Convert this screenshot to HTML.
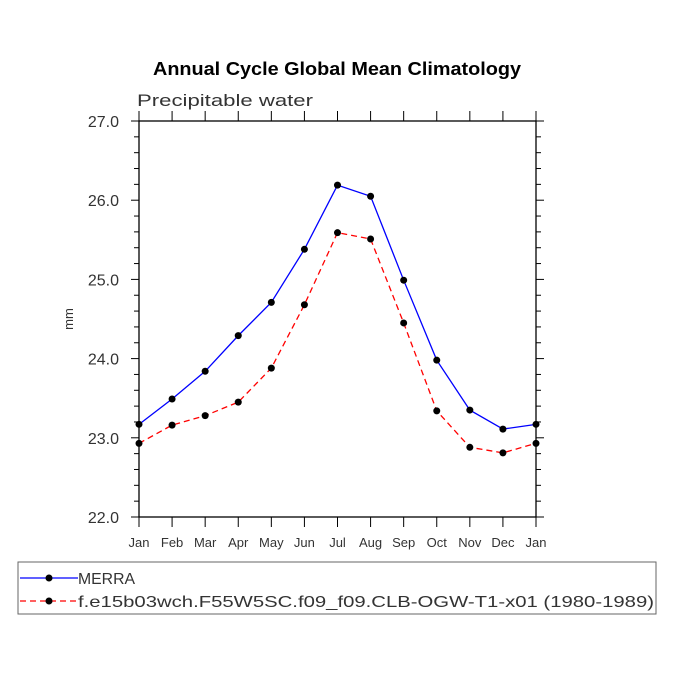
<!DOCTYPE html>
<html><head><meta charset="utf-8"><style>body{margin:0;background:#fff}svg{display:block}</style></head>
<body>
<svg id="c" width="675" height="675" xmlns="http://www.w3.org/2000/svg" font-family="Liberation Sans, DejaVu Sans, sans-serif">
<text x="153" y="75" textLength="368" lengthAdjust="spacingAndGlyphs" font-weight="bold" font-size="18">Annual Cycle Global Mean Climatology</text>
<text x="137" y="106" textLength="176" lengthAdjust="spacingAndGlyphs" font-size="17" fill="#333">Precipitable water</text>
<text x="73" y="319" font-size="13" fill="#333" text-anchor="middle" transform="rotate(-90 73 319)">mm</text>
<g id="axes"></g>
<g id="series"></g>
<rect x="18" y="562" width="638" height="52" fill="none" stroke="#666" stroke-width="1"/>
<g>
<line x1="20" y1="578" x2="78" y2="578" stroke="#00f" stroke-width="1.3"/>
<circle cx="49" cy="578" r="3.5"/>
<text x="78" y="584" textLength="57" lengthAdjust="spacingAndGlyphs" font-size="16" fill="#333">MERRA</text></g>
<g>
<line x1="20" y1="601" x2="78" y2="601" stroke="#f00" stroke-width="1.3" stroke-dasharray="6,4"/>
<circle cx="49" cy="601" r="3.5"/>
<text x="78" y="607" textLength="576" lengthAdjust="spacingAndGlyphs" font-size="16" fill="#333">f.e15b03wch.F55W5SC.f09_f09.CLB-OGW-T1-x01 (1980-1989)</text></g>
</svg>
<script>
const months=["Jan","Feb","Mar","Apr","May","Jun","Jul","Aug","Sep","Oct","Nov","Dec","Jan"];
const merra=[23.17,23.49,23.84,24.29,24.71,25.38,26.19,26.05,24.99,23.98,23.35,23.11,23.17];
const model=[22.93,23.16,23.28,23.45,23.88,24.68,25.59,25.51,24.45,23.34,22.88,22.81,22.93];
const yTicks=["22.0","23.0","24.0","25.0","26.0","27.0"];
const NS="http://www.w3.org/2000/svg";
const X0=139,X1=536,Y0=517,Y1=121,YMIN=22,YMAX=27;
const xs=i=>X0+(X1-X0)*i/(months.length-1);
const ys=v=>Y0-(v-YMIN)/(YMAX-YMIN)*(Y0-Y1);
const ax=document.getElementById('axes'),sr=document.getElementById('series');
function mk(t,a,p){const e=document.createElementNS(NS,t);for(const k in a)e.setAttribute(k,a[k]);p.appendChild(e);return e;}
const fr=mk('rect',{x:X0,y:Y1,width:X1-X0,height:Y0-Y1,fill:'none',stroke:'#000','stroke-width':1.3},ax);


months.forEach((m,i)=>{const x=xs(i);
mk('line',{x1:x,y1:Y0,x2:x,y2:Y0+10,stroke:'#000'},ax);
mk('line',{x1:x,y1:Y1,x2:x,y2:Y1-10,stroke:'#000'},ax);
const t=mk('text',{x:x,y:Y0+30,'text-anchor':'middle','font-size':13,fill:'#333'},ax);t.textContent=m;

});
for(let v=YMIN;v<=YMAX+1e-9;v+=0.2){const y=ys(v);const maj=Math.abs(v-Math.round(v))<1e-6;const L=maj?8:5;
mk('line',{x1:X0,y1:y,x2:X0-L,y2:y,stroke:'#000'},ax);
mk('line',{x1:X1,y1:y,x2:X1+L,y2:y,stroke:'#000'},ax);}
yTicks.forEach(s=>{const t=mk('text',{x:X0-20,y:ys(parseFloat(s))+6,'text-anchor':'end','font-size':16,fill:'#333'},ax);t.textContent=s;

});
function series(d,col,dash,name){
const p=mk('polyline',{points:d.map((v,i)=>xs(i)+','+ys(v)).join(' '),fill:'none',stroke:col,'stroke-width':1.3},sr);
if(dash)p.setAttribute('stroke-dasharray',dash);


d.forEach((v,i)=>{const c=mk('circle',{cx:xs(i),cy:ys(v),r:3.5,fill:'#000'},sr);

});}
series(merra,'#00f',null,'merra');
series(model,'#f00','6,4','model');
</script>
</body></html>
